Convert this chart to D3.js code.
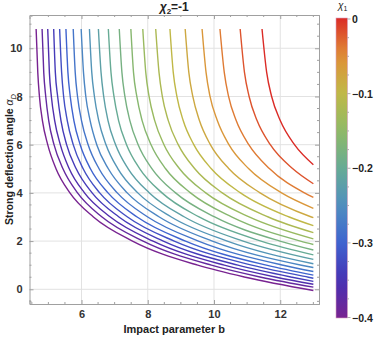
<!DOCTYPE html>
<html>
<head>
<meta charset="utf-8">
<script src="https://cdn.jsdelivr.net/npm/d3@7"></script>
<style>
  body { margin: 0; background: #fff; }
  text { font-family: "Liberation Sans", Arial, sans-serif; }
</style>
</head>
<body>
<div id="chart"></div>
<script>
'use strict'

// chi_1 value of each curve (colour), bottom-left to top-right
const chi1 = [-0.4, -0.38, -0.36, -0.34, -0.32, -0.3, -0.28, -0.26, -0.24, -0.22, -0.2,
              -0.18, -0.16, -0.14, -0.12, -0.1, -0.08, -0.06, -0.04, -0.02, 0]

// impact parameter b where each curve crosses a given deflection angle (null = not reached before b=13)
const bAt10_8 = [4.63, 4.81, 4.98, 5.16, 5.34, 5.53, 5.75, 5.99, 6.24, 6.51, 6.81, 7.14, 7.49, 7.85, 8.24, 8.67, 9.13, 9.64, 10.18, 10.79, 11.45]
const bAt9 = [4.68, 4.86, 5.03, 5.21, 5.40, 5.59, 5.81, 6.06, 6.31, 6.59, 6.89, 7.22, 7.57, 7.94, 8.34, 8.77, 9.24, 9.76, 10.31, 10.92, 11.59]
const bAt8 = [4.73, 4.92, 5.09, 5.28, 5.46, 5.66, 5.88, 6.13, 6.39, 6.67, 6.98, 7.31, 7.67, 8.04, 8.44, 8.88, 9.36, 9.88, 10.44, 11.06, 11.74]
const bAt7 = [4.82, 5.01, 5.19, 5.38, 5.57, 5.77, 6.00, 6.26, 6.52, 6.80, 7.12, 7.46, 7.83, 8.21, 8.62, 9.07, 9.56, 10.10, 10.67, 11.30, 12.00]
const bAt6 = [4.98, 5.17, 5.36, 5.55, 5.75, 5.96, 6.20, 6.46, 6.74, 7.03, 7.36, 7.71, 8.10, 8.49, 8.92, 9.39, 9.89, 10.45, 11.05, 11.70, 12.43]
const bAt5 = [5.23, 5.44, 5.63, 5.84, 6.05, 6.27, 6.53, 6.81, 7.10, 7.41, 7.76, 8.13, 8.54, 8.96, 9.42, 9.92, 10.45, 11.05, 11.68, 12.38, null]
const bAt4 = [5.65, 5.88, 6.09, 6.32, 6.55, 6.80, 7.08, 7.38, 7.70, 8.05, 8.43, 8.84, 9.29, 9.75, 10.25, 10.80, 11.39, 12.04, 12.73, null, null]
const bAt3 = [6.36, 6.62, 6.87, 7.13, 7.39, 7.68, 8.00, 8.35, 8.71, 9.11, 9.55, 10.02, 10.53, 11.06, 11.64, 12.27, 12.94, null, null, null, null]
const bAt2 = [7.54, 7.86, 8.16, 8.47, 8.80, 9.14, 9.53, 9.95, 10.40, 10.88, 11.42, 11.99, 12.61, null, null, null, null, null, null, null, null]
const bAt1 = [9.51, 9.92, 10.31, 10.72, 11.14, 11.58, 12.09, 12.64, null, null, null, null, null, null, null, null, null, null, null, null, null]
const bAt0_5 = [10.95, 11.42, 11.88, 12.36, 12.85, null, null, null, null, null, null, null, null, null, null, null, null, null, null, null, null]

// deflection angle at the right end of every curve (b = 13)
const alphaAtB13 = [-0.05, 0.09, 0.21, 0.33, 0.46, 0.59, 0.74, 0.90, 1.06, 1.24, 1.43, 1.63, 1.86, 2.09, 2.35, 2.64, 2.97, 3.36, 3.81, 4.38, 5.17]

const crossings = [[10.8, bAt10_8], [9, bAt9], [8, bAt8], [7, bAt7], [6, bAt6], [5, bAt5],
                   [4, bAt4], [3, bAt3], [2, bAt2], [1, bAt1], [0.5, bAt0_5]]

const xTicks = [6, 8, 10, 12]
const yTicks = [0, 2, 4, 6, 8, 10]
const barTicks = [0, -0.1, -0.2, -0.3, -0.4]

// Mathematica-like "Rainbow" gradient
const rainbow = ['#782391', '#4631b4', '#3f63cf', '#4f8fc0', '#67ab95', '#8fba66', '#c0b847', '#e08f37', '#db2b26']

////////////////////////////////////
//////////// svg setup /////////////
////////////////////////////////////

const svgWidth = 374
const svgHeight = 338
const plot = {left: 29.5, right: 319, top: 15, bottom: 304}

const svg = d3.select('#chart').append('svg')
    .attr('width', svgWidth)
    .attr('height', svgHeight)

const x = d3.scaleLinear().domain([4.43, 13.17]).range([plot.left, plot.right])
const y = d3.scaleLinear().domain([-0.61, 11.38]).range([plot.bottom, plot.top])
const colour = d3.scaleLinear()
    .domain(d3.range(rainbow.length).map(i => -0.4 + 0.4 * i / (rainbow.length - 1)))
    .range(rainbow)
    .interpolate(d3.interpolateRgb)

// grid
svg.append('g').selectAll('line').data(xTicks).join('line')
    .attr('x1', d => x(d)).attr('x2', d => x(d))
    .attr('y1', plot.top).attr('y2', plot.bottom)
    .attr('stroke', '#e2e2e2').attr('stroke-width', 1)
svg.append('g').selectAll('line').data(yTicks).join('line')
    .attr('y1', d => y(d)).attr('y2', d => y(d))
    .attr('x1', plot.left).attr('x2', plot.right)
    .attr('stroke', '#e2e2e2').attr('stroke-width', 1)

// curves
const curves = chi1.map((c, i) => {
    const pts = []
    crossings.forEach(([a, arr]) => { if (arr[i] !== null) pts.push([arr[i], a]) })
    pts.push([13, alphaAtB13[i]])
    pts.sort((p, q) => p[0] - q[0])
    return {chi: c, pts: pts}
})

const line = d3.line()
    .x(d => x(d[0]))
    .y(d => y(d[1]))
    .curve(d3.curveMonotoneX)

svg.append('g').selectAll('path').data(curves).join('path')
    .attr('d', d => line(d.pts))
    .attr('fill', 'none')
    .attr('stroke', d => colour(d.chi))
    .attr('stroke-width', 1.4)

// frame with inward ticks on all four sides
const frame = svg.append('g')
const xAxisB = d3.axisBottom(x).tickValues(xTicks).tickSize(-4).tickPadding(6).tickFormat(d3.format('d'))
const xAxisT = d3.axisTop(x).tickValues(xTicks).tickSize(-4).tickFormat('')
const yAxisL = d3.axisLeft(y).tickValues(yTicks).tickSize(-4).tickPadding(7).tickFormat(d3.format('d'))
const yAxisR = d3.axisRight(y).tickValues(yTicks).tickSize(-4).tickFormat('')

const xMinor = d3.range(4.5, 13.01, 0.5).filter(v => !xTicks.includes(v))
const yMinor = d3.range(-0.5, 11.01, 0.5).filter(v => !yTicks.includes(v))

function drawAxis(g, axis, minor, orient) {
    g.call(axis)
    g.select('.domain').attr('stroke', '#a0a0a0')
    g.selectAll('.tick line').attr('stroke', '#a0a0a0')
    g.selectAll('.tick text')
        .attr('font-size', 11).attr('font-weight', 'bold').attr('fill', '#333')
    g.selectAll('.minor').data(minor).join('line')
        .attr('class', 'minor')
        .attr('stroke', '#a0a0a0')
        .each(function (v) {
            const s = d3.select(this)
            if (orient === 'b') s.attr('x1', x(v)).attr('x2', x(v)).attr('y1', 0).attr('y2', -2)
            if (orient === 't') s.attr('x1', x(v)).attr('x2', x(v)).attr('y1', 0).attr('y2', 2)
            if (orient === 'l') s.attr('y1', y(v)).attr('y2', y(v)).attr('x1', 0).attr('x2', 2)
            if (orient === 'r') s.attr('y1', y(v)).attr('y2', y(v)).attr('x1', 0).attr('x2', -2)
        })
}

drawAxis(frame.append('g').attr('transform', `translate(0,${plot.bottom})`), xAxisB, xMinor, 'b')
drawAxis(frame.append('g').attr('transform', `translate(0,${plot.top})`), xAxisT, xMinor, 't')
drawAxis(frame.append('g').attr('transform', `translate(${plot.left},0)`), yAxisL, yMinor, 'l')
drawAxis(frame.append('g').attr('transform', `translate(${plot.right},0)`), yAxisR, yMinor, 'r')

// title
const title = svg.append('text')
    .attr('x', (plot.left + plot.right) / 2).attr('y', 11)
    .attr('text-anchor', 'middle')
    .attr('font-size', 12).attr('font-weight', 'bold').attr('fill', '#222')
title.append('tspan').attr('font-style', 'italic').text('χ')
title.append('tspan').attr('font-size', 8).attr('dy', 3).text('2')
title.append('tspan').attr('dy', -3).text('=-1')

// axis labels
svg.append('text')
    .attr('x', (plot.left + plot.right) / 2).attr('y', 333)
    .attr('text-anchor', 'middle')
    .attr('font-size', 11).attr('font-weight', 'bold').attr('fill', '#222')
    .text('Impact parameter b')

const yLab = svg.append('text')
    .attr('transform', `translate(13,${(plot.top + plot.bottom) / 2}) rotate(-90)`)
    .attr('text-anchor', 'middle')
    .attr('font-size', 10.5).attr('font-weight', 'bold').attr('fill', '#222')
yLab.append('tspan').text('Strong deflection angle ')
yLab.append('tspan').attr('font-style', 'italic').attr('font-weight', 'normal').text('α')
yLab.append('tspan').attr('font-style', 'italic').attr('font-weight', 'normal').attr('font-size', 7.5).attr('dy', 2.5).text('D')

// colour bar
const bar = {x: 336, w: 11.5, top: 18, bottom: 318}
const cb = d3.scaleLinear().domain([-0.4, 0]).range([bar.bottom - 0.5, bar.top + 1])

const grad = svg.append('defs').append('linearGradient')
    .attr('id', 'cbar').attr('x1', 0).attr('x2', 0).attr('y1', 1).attr('y2', 0)
d3.range(0, 1.0001, 0.05).forEach(t => {
    grad.append('stop').attr('offset', t).attr('stop-color', colour(-0.4 + 0.4 * t))
})

svg.append('rect')
    .attr('x', bar.x).attr('y', bar.top)
    .attr('width', bar.w).attr('height', bar.bottom - bar.top)
    .attr('fill', 'url(#cbar)')
    .attr('stroke', '#d9a0c0').attr('stroke-width', 0.6)

svg.append('g').selectAll('line').data(d3.range(-0.4, 0.001, 0.025)).join('line')
    .attr('x1', bar.x + bar.w).attr('x2', d => bar.x + bar.w + (barTicks.some(t => Math.abs(t - d) < 1e-6) ? 3 : 1.5))
    .attr('y1', d => cb(d)).attr('y2', d => cb(d))
    .attr('stroke', '#999').attr('stroke-width', 0.8)

svg.append('g').selectAll('text').data(barTicks).join('text')
    .attr('x', 352).attr('y', d => cb(d) + 4)
    .attr('font-size', 10.5).attr('font-weight', 'bold').attr('fill', '#222')
    .text(d => d === 0 ? '0' : d3.format('.1f')(d).replace('-', '\u2212'))

const cbLab = svg.append('text')
    .attr('x', bar.x + 2).attr('y', 9)
    .attr('font-size', 10).attr('fill', '#222')
cbLab.append('tspan').attr('font-style', 'italic').text('χ')
cbLab.append('tspan').attr('font-size', 7).attr('dy', 2).text('1')
</script>
</body>
</html>
